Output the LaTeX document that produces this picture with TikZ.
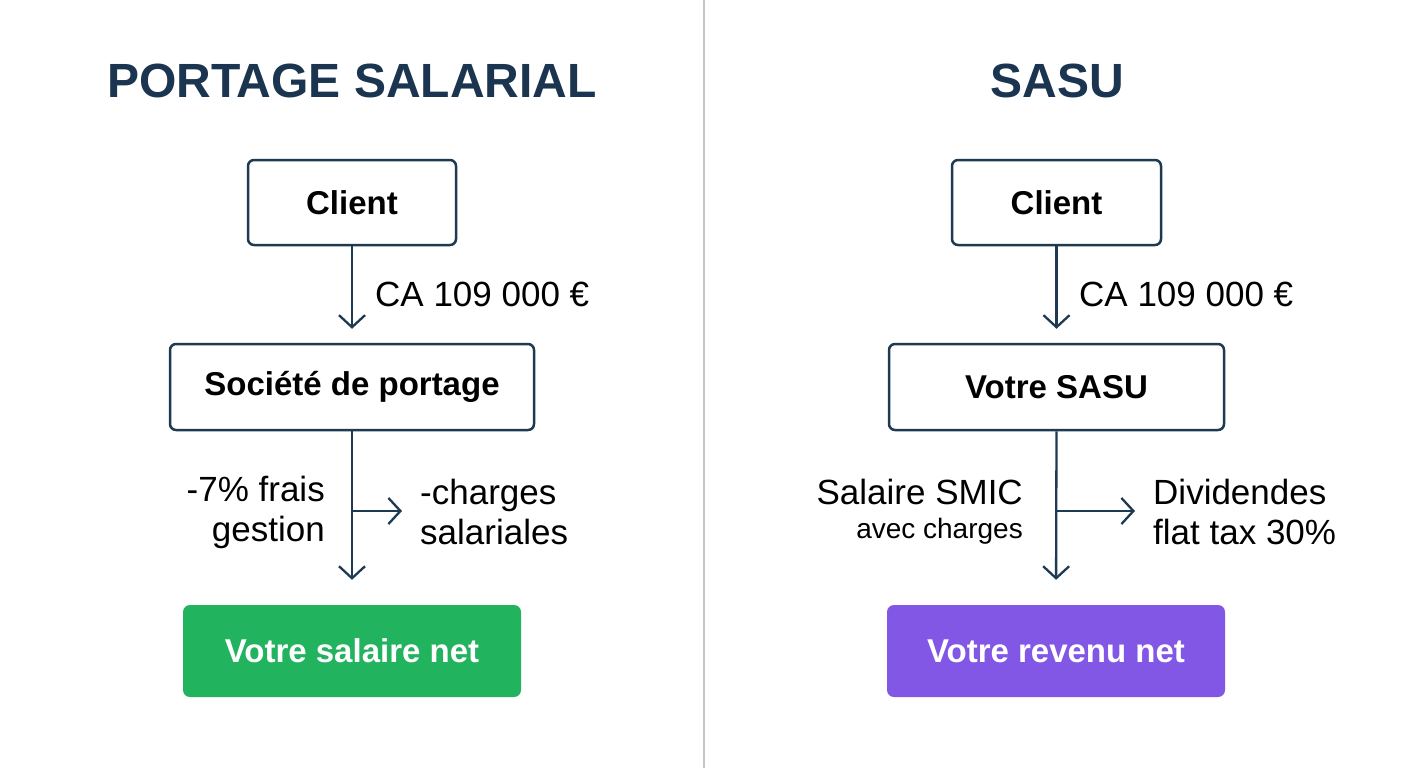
\documentclass[tikz,border=0pt]{standalone}
\usepackage{fontspec}
\setmainfont{Liberation Sans}
\usetikzlibrary{arrows.meta}
\definecolor{navy}{HTML}{1B3550}
\definecolor{stroke}{HTML}{1E3A52}
\definecolor{divgray}{HTML}{C3C6CC}
\definecolor{vert}{HTML}{22B35E}
\definecolor{violet}{HTML}{8257E6}
\tikzset{
  box/.style={draw=stroke, line width=2.5pt, rounded corners=6pt, fill=white, text=black, font=\bfseries\fontsize{33}{40}\selectfont, inner sep=0pt},
  endbox/.style={rounded corners=7pt, text=white, font=\bfseries\fontsize{33}{40}\selectfont, inner sep=0pt},
  title/.style={text=navy, font=\bfseries\fontsize{48}{56}\selectfont},
  lbl/.style={text=black, font=\fontsize{35}{40}\selectfont, inner sep=0pt},
  small/.style={text=black, font=\fontsize{28}{32}\selectfont, inner sep=0pt},
  arr/.style={draw=stroke, line width=2.3pt, -{Straight Barb[length=12pt,width=26pt,line width=2.3pt]}},
}
\begin{document}
\begin{tikzpicture}[x=1pt,y=-1pt]
\useasboundingbox (0,0) rectangle (1408,768);
\fill[white] (0,0) rectangle (1408,768);
\draw[divgray, line width=2pt] (704,0) -- (704,768);

% Left column
\node[title] (t1) at (352,81) {PORTAGE SALARIAL};
\node[box, minimum width=208pt, minimum height=85pt] (c1) at (352,202.5) {Client};
\node[box, minimum width=364pt, minimum height=86pt] (s1) at (352,387) {Société de portage};
\node[endbox, fill=vert, minimum width=338pt, minimum height=92pt] (n1) at (352,651) {Votre salaire net};
\draw[arr, shorten >=14pt] (c1.south) -- (s1.north);
\node[lbl, anchor=west] (ca1) at (375,294) {CA 109 000 €};
\draw[arr, shorten >=25pt] (s1.south) -- (n1.north);
\coordinate (b1) at (352,511);
\coordinate (e1) at (402,511);
\draw[arr] (b1) -- (e1);
\node[lbl, anchor=east, align=right] (f1) at (325,512) {-7\% frais\\gestion};
\node[lbl, anchor=west, align=left] (g1) at (420,512) {-charges\\salariales};

% Right column
\node[title] (t2) at (1057,81) {SASU};
\node[box, minimum width=209pt, minimum height=85pt] (c2) at (1056.5,202.5) {Client};
\node[box, minimum width=335pt, minimum height=86pt] (s2) at (1056.5,387) {Votre SASU};
\node[endbox, fill=violet, minimum width=338pt, minimum height=92pt] (n2) at (1056,651) {Votre revenu net};
\draw[arr, shorten >=14pt] (c2.south) -- (s2.north);
\node[lbl, anchor=west] (ca2) at (1079,294) {CA 109 000 €};
\draw[arr, shorten >=25pt] (s2.south) -- (n2.north);
\coordinate (b2) at (1057,511);
\coordinate (e2) at (1135,511);
\draw[arr] (b2) -- (e2);
\node[lbl, anchor=east] (sm) at (1023,492) {Salaire SMIC};
\node[small, anchor=east] (ac) at (1023,531) {avec charges};
\node[lbl, anchor=west, align=left] (dv) at (1153,512) {Dividendes\\flat tax 30\%};
\end{tikzpicture}
\end{document}
